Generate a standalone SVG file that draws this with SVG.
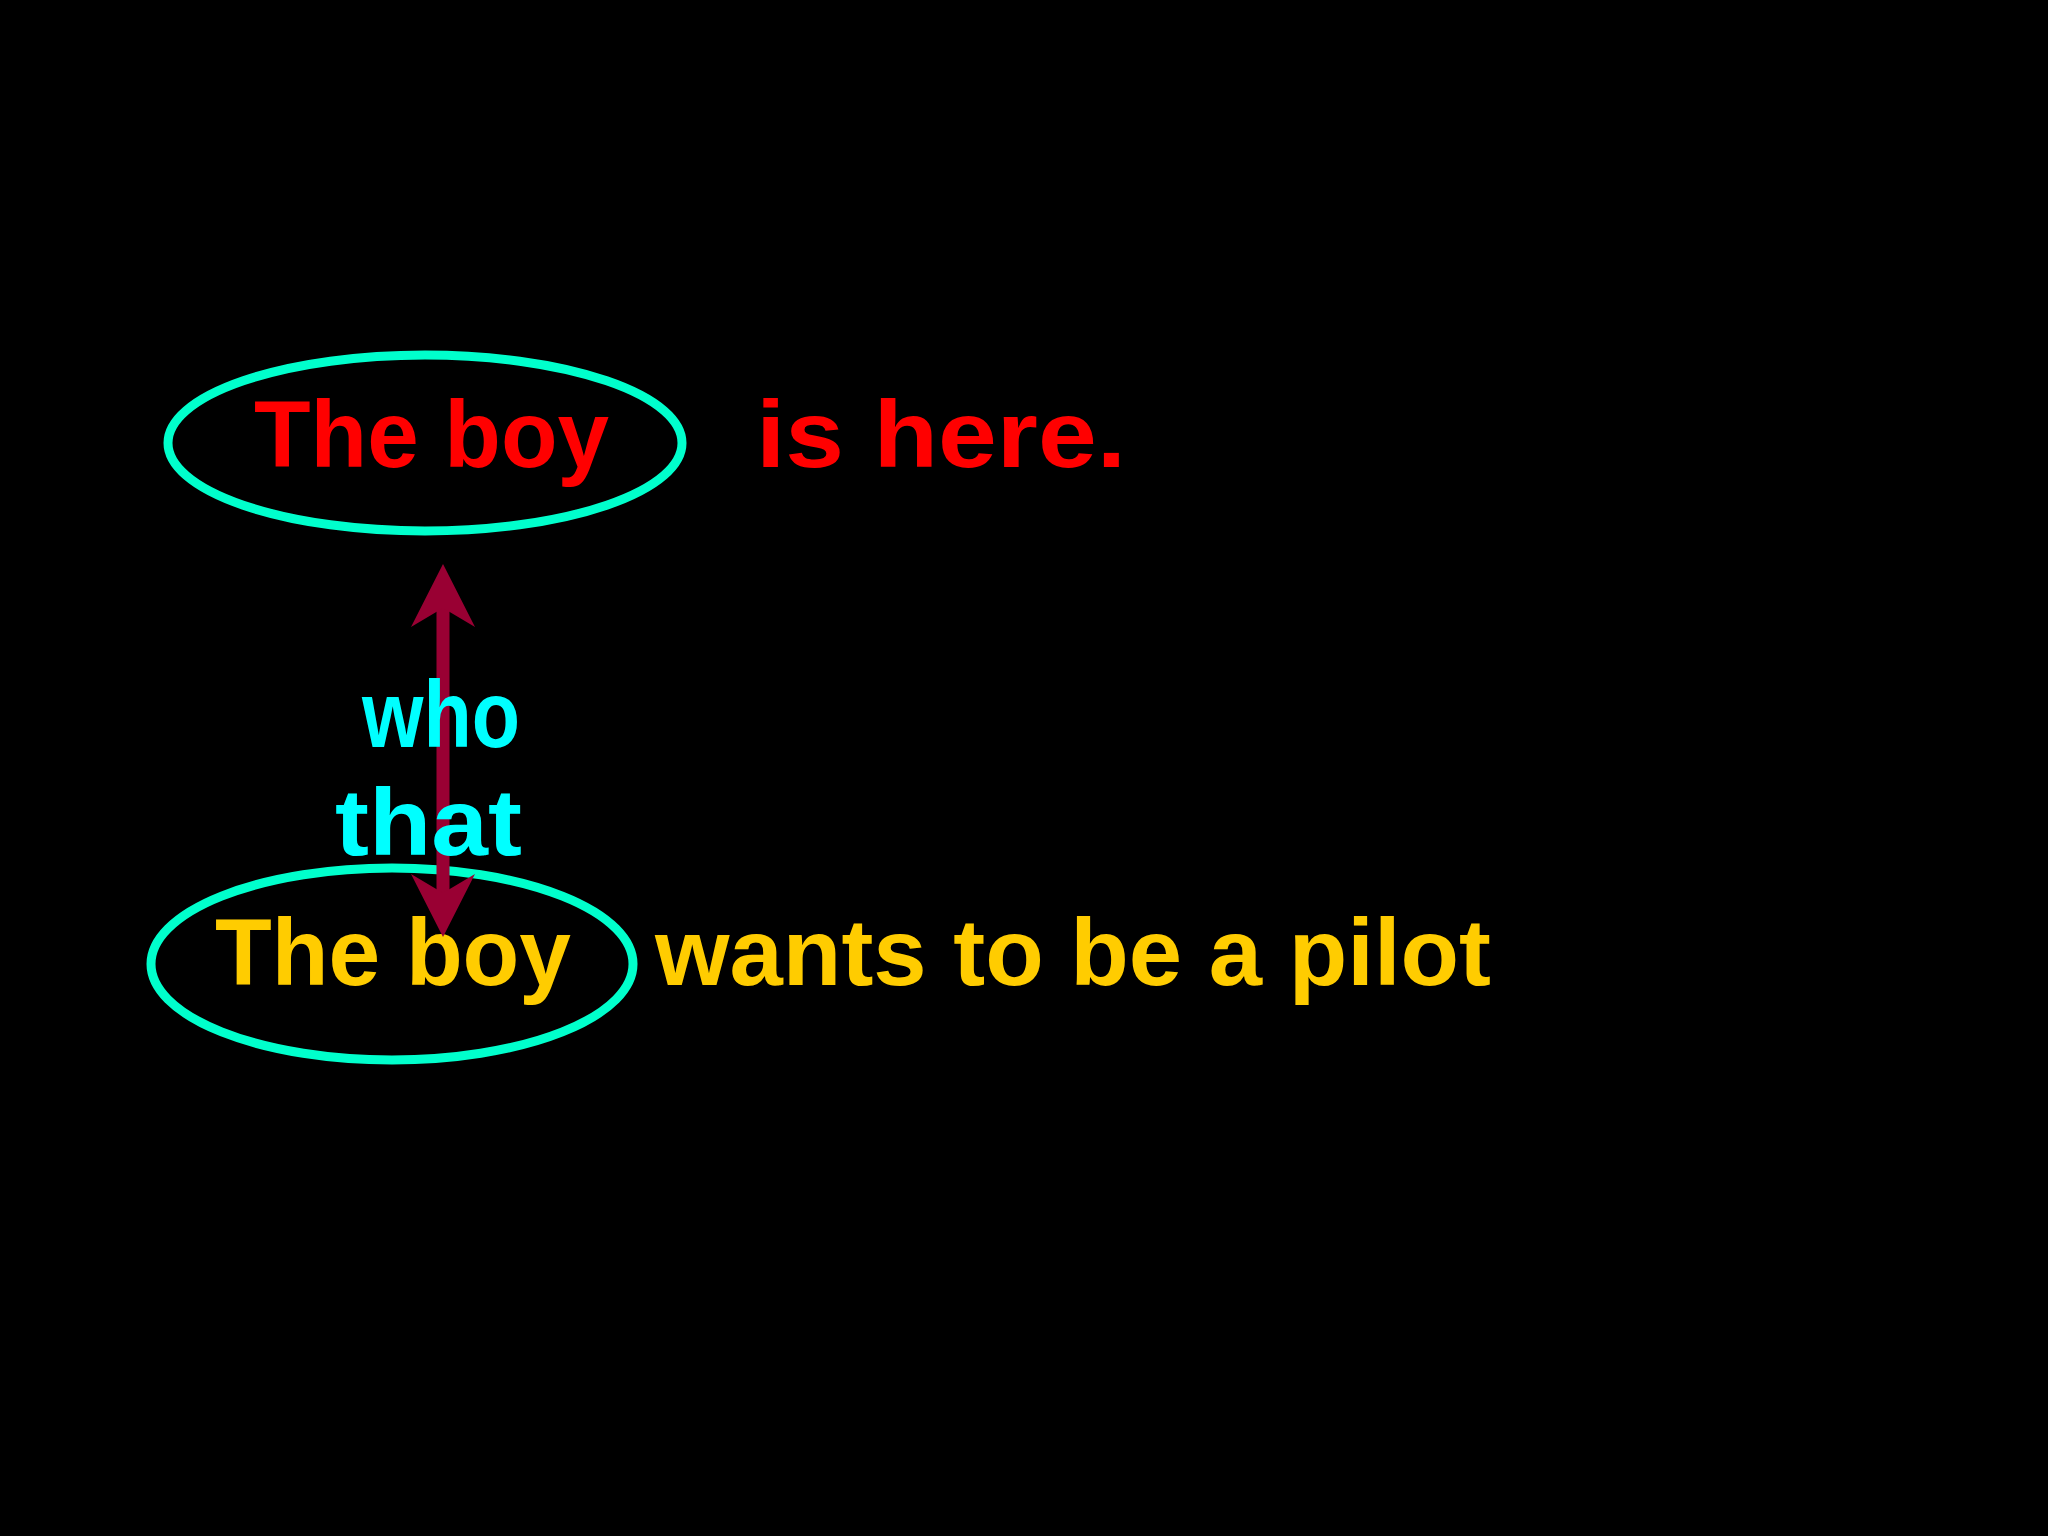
<svg xmlns="http://www.w3.org/2000/svg" width="2048" height="1536" viewBox="0 0 2048 1536">
  <defs>
    <style>
      .t { font-family: "Liberation Sans", "DejaVu Sans", sans-serif; font-weight: bold; font-size: 94px; }
      .red { fill: #FF0000; }
      .yel { fill: #FFCC00; }
      .cyan { fill: #00FFFF; }
      .ring { fill: none; stroke: #00FFCC; stroke-width: 9; }
    </style>
    <marker id="head" markerUnits="userSpaceOnUse" viewBox="-40 -40 80 80" markerWidth="80" markerHeight="80" refX="0" refY="0" orient="auto-start-reverse" overflow="visible">
      <path d="M 37 0 L -26 -32 L -7 0 L -26 32 Z" fill="#990033"/>
    </marker>
  </defs>
  <rect width="2048" height="1536" fill="#000000"/>

  <g id="node-top">
    <ellipse class="ring" cx="425" cy="443" rx="257" ry="88"/>
    <text class="t red" x="254" y="467" textLength="355" lengthAdjust="spacingAndGlyphs">The boy</text>
  </g>
  <g id="node-top-predicate">
    <text class="t red" x="756" y="467" textLength="370" lengthAdjust="spacingAndGlyphs">is here.</text>
  </g>

  <g id="node-bottom">
    <ellipse class="ring" cx="392" cy="964" rx="241" ry="96"/>
    <text class="t yel" x="215" y="985" textLength="356" lengthAdjust="spacingAndGlyphs">The boy</text>
  </g>
  <g id="node-bottom-predicate">
    <text class="t yel" x="655" y="985" textLength="836" lengthAdjust="spacingAndGlyphs">wants to be a pilot</text>
  </g>

  <g id="connectors">
    <line x1="443" y1="601" x2="443" y2="900" stroke="#990033" stroke-width="13" marker-start="url(#head)" marker-end="url(#head)"/>
  </g>

  <g id="node-relative">
    <text class="t cyan" x="362" y="747" textLength="158" lengthAdjust="spacingAndGlyphs">who</text>
    <text class="t cyan" x="335" y="855" textLength="187" lengthAdjust="spacingAndGlyphs">that</text>
  </g>
</svg>
